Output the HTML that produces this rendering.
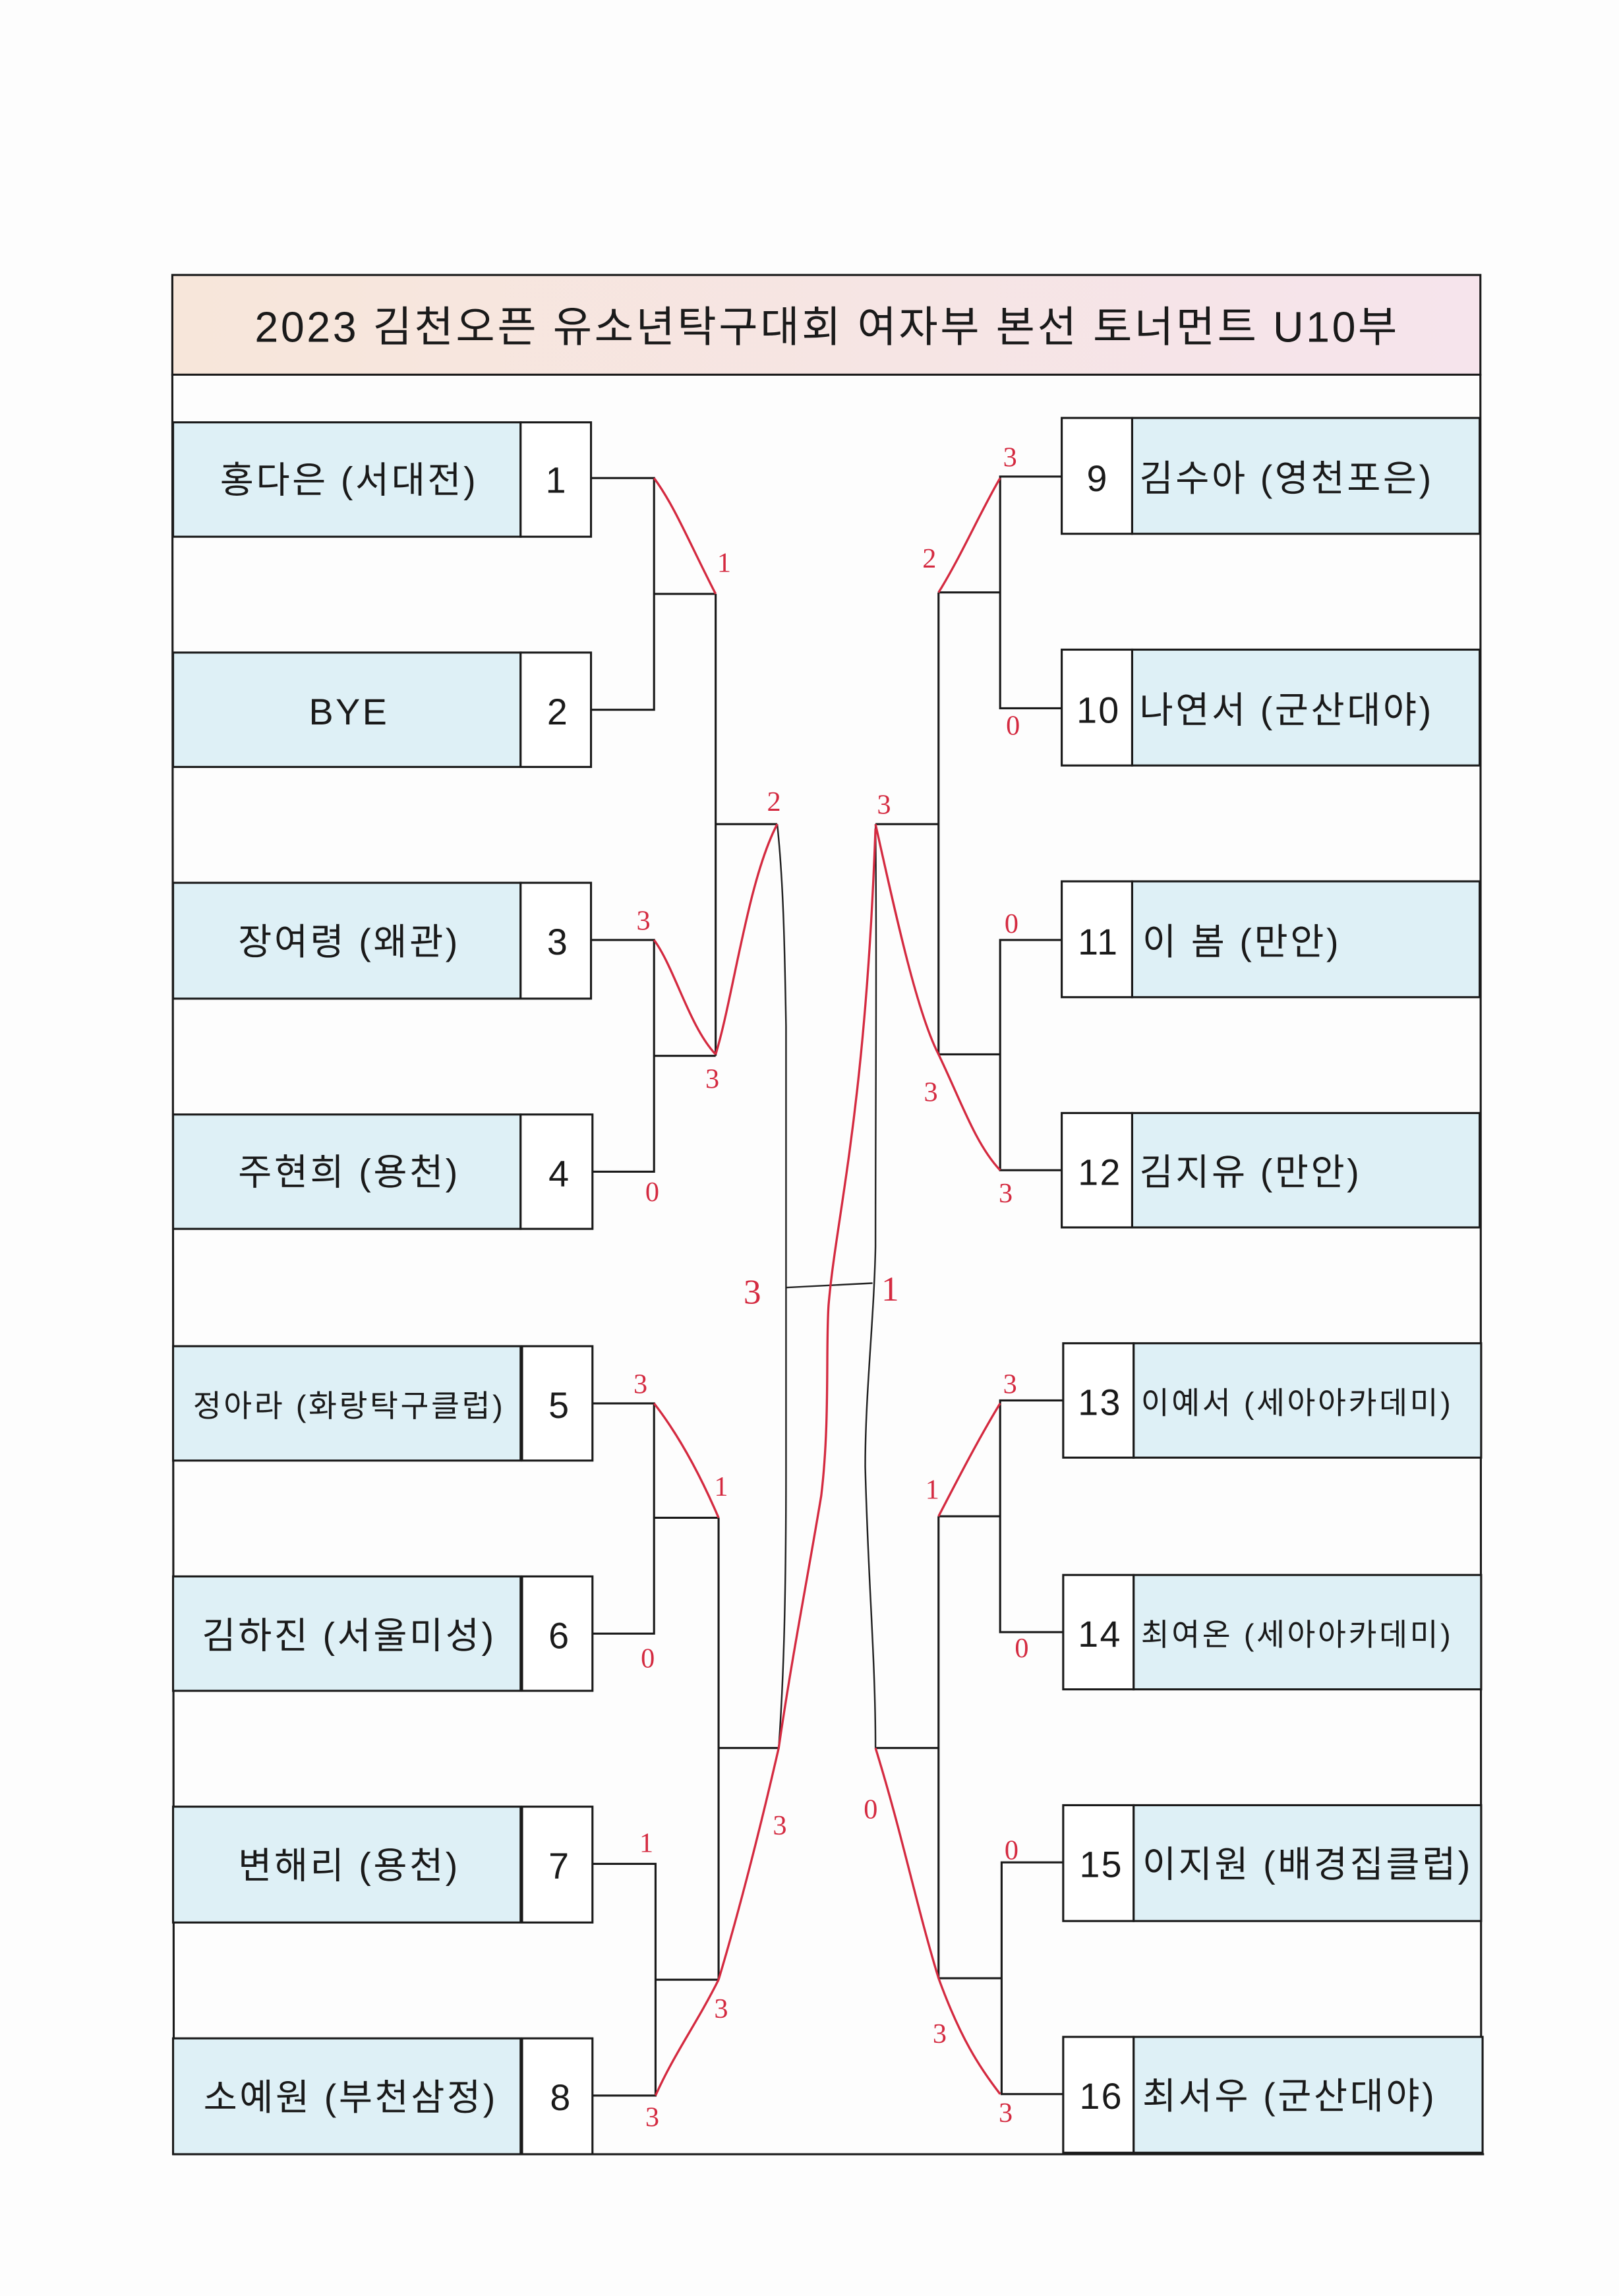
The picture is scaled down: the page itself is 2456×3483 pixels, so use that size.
<!DOCTYPE html>
<html><head><meta charset="utf-8"><style>
html,body{margin:0;padding:0;background:#fdfdfd;}
svg{display:block}
.n{font-family:"Liberation Sans","Noto Sans CJK KR","NanumGothic",sans-serif;fill:#1a1a1a}
.r{font-family:"Liberation Serif",serif;fill:#d42a40;font-size:19px}
</style></head><body>
<svg width="2456" height="3483" viewBox="0 0 1104 1565.7" xmlns="http://www.w3.org/2000/svg">
<defs><linearGradient id="g" x1="0" x2="1"><stop offset="0" stop-color="#f7e6da"/><stop offset="1" stop-color="#f6e4ec"/></linearGradient></defs>
<rect x="0" y="0" width="1104" height="1566" fill="#fdfdfd"/>
<rect x="117.5" y="187.5" width="892" height="68" fill="url(#g)" stroke="#1a1a1a" stroke-width="1.4"/>
<text class="n" x="564" y="233" font-size="29" letter-spacing="1.6" text-anchor="middle">2023 김천오픈 유소년탁구대회 여자부 본선 토너먼트 U10부</text>
<path d="M117.5 255 L118.5 1469 L1012 1469 M1009.5 255 L1010 1469" fill="none" stroke="#1a1a1a" stroke-width="1.4"/>
<g stroke="#1a1a1a" stroke-width="1.4">
<g fill="#def0f6">
<rect x="118" y="288" width="237" height="78"/><rect x="118" y="445" width="237" height="78"/>
<rect x="118" y="602" width="237" height="79"/><rect x="118" y="760" width="237" height="78"/>
<rect x="118" y="918" width="237" height="78"/><rect x="118" y="1075" width="237" height="78"/>
<rect x="118" y="1232" width="237" height="79"/><rect x="118" y="1390" width="237" height="79"/>
<rect x="772" y="285" width="237" height="79"/><rect x="772" y="443" width="237" height="79"/>
<rect x="772" y="601" width="237" height="79"/><rect x="772" y="759" width="237" height="78"/>
<rect x="773" y="916" width="237" height="78"/><rect x="773" y="1074" width="237" height="78"/>
<rect x="773" y="1231" width="237" height="79"/><rect x="773" y="1389" width="238" height="79"/>
</g>
<g fill="#fff">
<rect x="355" y="288" width="48" height="78"/><rect x="355" y="445" width="48" height="78"/>
<rect x="355" y="602" width="48" height="79"/><rect x="355" y="760" width="49" height="78"/>
<rect x="356" y="918" width="48" height="78"/><rect x="356" y="1075" width="48" height="78"/>
<rect x="356" y="1232" width="48" height="79"/><rect x="356" y="1390" width="48" height="79"/>
<rect x="724" y="285" width="48" height="79"/><rect x="724" y="443" width="48" height="79"/>
<rect x="724" y="601" width="48" height="79"/><rect x="724" y="759" width="48" height="78"/>
<rect x="725" y="916" width="48" height="78"/><rect x="725" y="1074" width="48" height="78"/>
<rect x="725" y="1231" width="48" height="79"/><rect x="725" y="1389" width="48" height="79"/>
</g>
<g fill="none">
<path d="M403 326 H446 V484 H403 M446 405 H488"/>
<path d="M403 641 H446 V799 H404 M446 720 H488"/>
<path d="M404 957 H446 V1114 H404 M446 1035 H490"/>
<path d="M404 1271 H447 V1429 H404 M447 1350 H490"/>
<path d="M488 405 V720 M488 562 H530 M490 1035 V1350 M490 1192 H531"/>
<path d="M724 325 H682 V483 H724 M682 404 H640"/>
<path d="M724 641 H682 V798 H724 M682 719 H640"/>
<path d="M725 955 H682 V1113 H725 M682 1034 H640"/>
<path d="M725 1270 H683 V1428 H725 M683 1349 H640"/>
<path d="M640 404 V719 M640 562 H597 M640 1034 V1349 M640 1192 H597"/>
</g>
</g>
<g fill="none" stroke="#222" stroke-width="1.1">
<path d="M530 562 C534 600 535 640 536 700 L536 1000 C536 1100 534 1150 531 1192"/>
<path d="M597 562 C598 650 597 750 597 850 C596 900 590 950 590 1000 C592 1080 597 1130 597 1192"/>
<path d="M536 878 L595 875"/>
</g>
<g fill="none" stroke="#d42a40" stroke-width="1.5">
<path d="M446 326 C460 345 470 370 488 405"/>
<path d="M446 641 C460 660 470 700 488 719"/>
<path d="M488 719 C500 680 510 600 530 562"/>
<path d="M446 957 C460 975 475 1000 490 1035"/>
<path d="M447 1429 C460 1400 475 1380 490 1350"/>
<path d="M490 1350 C505 1300 520 1240 531 1192 C540 1130 550 1080 560 1020 C566 970 563 920 565 890 C570 830 590 760 597 565"/>
<path d="M597 562 C610 620 625 690 640 719 C655 750 665 780 682 798"/>
<path d="M682 326 C668 350 655 380 640 404"/>
<path d="M682 957 C668 980 655 1005 640 1034"/>
<path d="M597 1192 C615 1250 625 1300 640 1349 C655 1390 668 1410 682 1428"/>
</g>
<g class="r">
<text x="489" y="390">1</text><text x="434" y="634">3</text><text x="481" y="742">3</text><text x="440" y="819">0</text>
<text x="523" y="553">2</text><text x="432" y="950">3</text><text x="487" y="1020">1</text><text x="437" y="1137">0</text>
<text x="436" y="1263">1</text><text x="440" y="1450">3</text><text x="487" y="1376">3</text><text x="527" y="1251">3</text>
<text x="507" y="889" font-size="24">3</text><text x="601" y="887" font-size="24">1</text>
<text x="598" y="555">3</text><text x="630" y="751">3</text><text x="681" y="820">3</text><text x="685" y="636">0</text>
<text x="684" y="318">3</text><text x="629" y="387">2</text><text x="686" y="501">0</text>
<text x="684" y="950">3</text><text x="631" y="1022">1</text><text x="692" y="1130">0</text>
<text x="685" y="1268">0</text><text x="636" y="1393">3</text><text x="681" y="1447">3</text><text x="589" y="1240">0</text>
</g>
<g class="n" font-size="25" letter-spacing="1.6">
<text x="238" y="336" text-anchor="middle">홍다은 (서대전)</text>
<text x="238" y="494" text-anchor="middle">BYE</text>
<text x="238" y="651" text-anchor="middle">장여령 (왜관)</text>
<text x="238" y="808" text-anchor="middle">주현희 (용천)</text>
<text x="238" y="966" text-anchor="middle" font-size="21" letter-spacing="1.6">정아라 (화랑탁구클럽)</text>
<text x="238" y="1124" text-anchor="middle">김하진 (서울미성)</text>
<text x="238" y="1281" text-anchor="middle">변해리 (용천)</text>
<text x="239" y="1439" text-anchor="middle">소예원 (부천삼정)</text>
</g>
<g class="n" font-size="25">
<text x="379" y="336" text-anchor="middle">1</text><text x="380" y="494" text-anchor="middle">2</text>
<text x="380" y="651" text-anchor="middle">3</text><text x="381" y="809" text-anchor="middle">4</text>
<text x="381" y="967" text-anchor="middle">5</text><text x="381" y="1124" text-anchor="middle">6</text>
<text x="381" y="1281" text-anchor="middle">7</text><text x="382" y="1439" text-anchor="middle">8</text>
<text x="748" y="335" text-anchor="middle">9</text><text x="749" y="493" text-anchor="middle" letter-spacing="1">10</text>
<text x="749" y="651" text-anchor="middle" letter-spacing="1">11</text><text x="750" y="808" text-anchor="middle" letter-spacing="1">12</text>
<text x="750" y="965" text-anchor="middle" letter-spacing="1">13</text><text x="750" y="1123" text-anchor="middle" letter-spacing="1">14</text>
<text x="751" y="1280" text-anchor="middle" letter-spacing="1">15</text><text x="751" y="1438" text-anchor="middle" letter-spacing="1">16</text>
</g>
<g class="n" font-size="25" letter-spacing="1.6">
<text x="777" y="335">김수아 (영천포은)</text>
<text x="777" y="493">나연서 (군산대야)</text>
<text x="779" y="651">이 봄 (만안)</text>
<text x="777" y="808">김지유 (만안)</text>
<text x="778" y="964" font-size="21" letter-spacing="1.6">이예서 (세아아카데미)</text>
<text x="778" y="1122" font-size="21" letter-spacing="1.6">최여온 (세아아카데미)</text>
<text x="779" y="1280">이지원 (배경집클럽)</text>
<text x="779" y="1438">최서우 (군산대야)</text>
</g>
</svg>
</body></html>
